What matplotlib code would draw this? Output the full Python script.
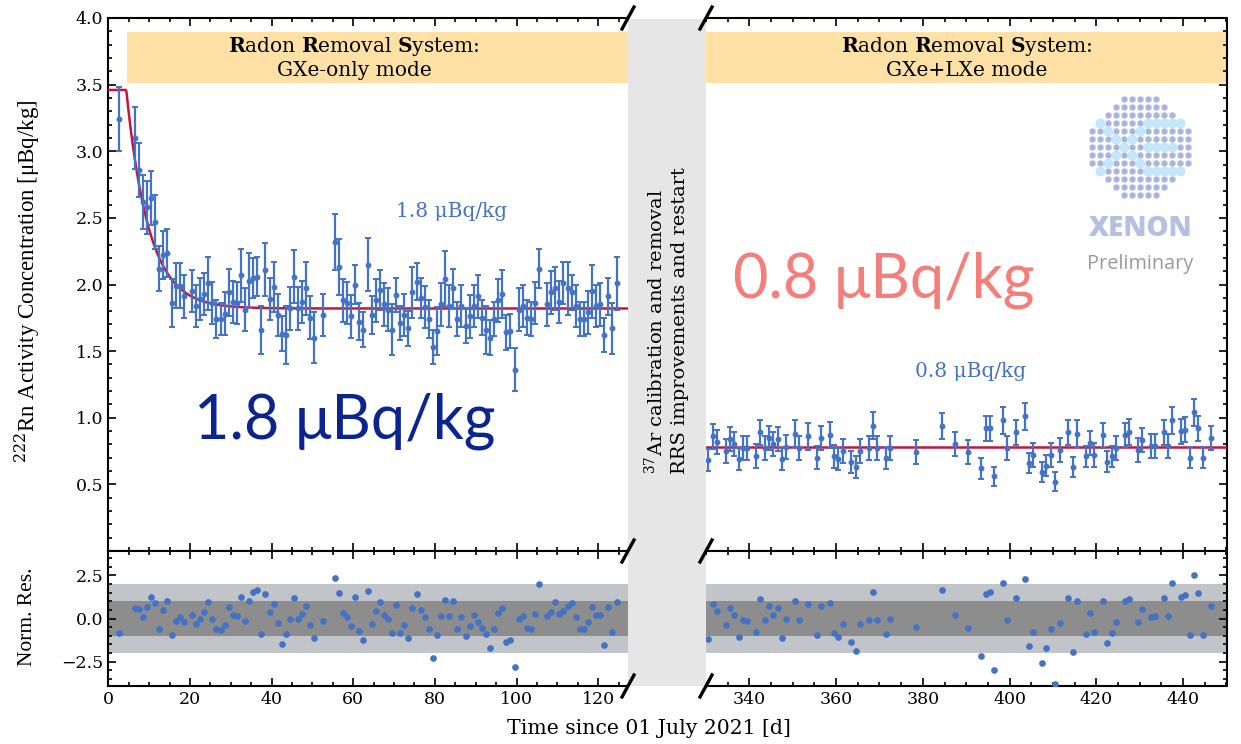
import numpy as np
import matplotlib
matplotlib.use("Agg")
import matplotlib.pyplot as plt
from matplotlib.patches import Rectangle
from matplotlib.lines import Line2D
from matplotlib.ticker import MultipleLocator

plt.rcParams['font.family'] = ['DejaVu Serif']
plt.rcParams['mathtext.fontset'] = 'dejavuserif'

# ---------------- data: GXe-only mode (left) ----------------
left_days = [2.5, 6.5, 7.5, 8.5, 9.5, 10.5, 11.5, 12.5, 13.5, 14.5, 15.5, 16.5, 17.5, 18.5,
             20.5, 21.5, 22.5, 23.5, 24.5, 25.5, 26.5, 27.5, 28.5, 29.5, 30.5, 31.5, 32.5,
             33.5, 34.5, 35.5, 36.5, 37.5, 38.5, 39.5, 40.5, 41.5, 42.5, 43.5, 44.5, 45.5,
             46.5, 47.5, 48.5, 49.5, 50.5, 52.5, 55.5, 56.5, 57.5, 58.5, 59.5, 60.5, 61.5,
             62.5, 63.5, 64.5, 65.5, 66.5, 67.5, 68.5, 69.5, 70.5, 71.5, 72.5, 73.5, 74.5,
             75.5, 76.5, 77.5, 78.5, 79.5, 80.5, 81.5, 82.5, 83.5, 84.5, 85.5, 86.5, 87.5,
             88.5, 89.5, 90.5, 91.5, 92.5, 93.5, 94.5, 95.5, 96.5, 97.5, 98.5, 99.5, 100.5,
             101.5, 102.5, 103.5, 104.5, 105.5, 107.5, 108.5, 109.5, 110.5, 111.5, 112.5,
             113.5, 114.5, 115.5, 116.5, 117.5, 118.5, 119.5, 120.5, 121.5, 122.5, 123.5, 124.5]
left_conc = [3.24, 3.10, 2.86, 2.62, 2.58, 2.65, 2.47, 2.12, 2.22, 2.24, 1.86, 1.99, 1.99, 1.91,
             1.95, 1.84, 1.89, 1.93, 2.01, 1.86, 1.74, 1.74, 1.78, 1.94, 1.87, 1.86, 2.07,
             1.81, 2.03, 2.05, 2.06, 1.66, 2.11, 1.89, 1.98, 1.77, 1.63, 1.62, 1.82, 2.06,
             1.82, 1.87, 1.97, 1.75, 1.60, 1.77, 2.32, 2.13, 1.88, 1.86, 1.76, 2.00, 1.72,
             1.66, 2.15, 1.77, 1.88, 1.96, 1.85, 1.81, 1.66, 1.92, 1.71, 1.77, 1.67, 1.94,
             2.02, 1.90, 1.83, 1.74, 1.53, 1.65, 1.85, 2.04, 1.84, 1.97, 1.74, 1.84, 1.69,
             1.76, 1.84, 1.91, 1.75, 1.66, 1.60, 1.74, 1.88, 1.93, 1.64, 1.65, 1.36, 1.81,
             1.84, 1.75, 1.74, 1.86, 2.12, 1.85, 1.94, 1.97, 1.87, 2.01, 1.97,
             1.94, 1.84, 1.74, 1.74, 1.79, 1.95, 1.84, 1.85, 1.62, 1.91, 1.67, 2.01]
left_err = [0.24, 0.23, 0.20, 0.20, 0.20, 0.20, 0.20, 0.17, 0.18, 0.18, 0.18, 0.17, 0.17, 0.16,
            0.16, 0.16, 0.16, 0.16, 0.20, 0.16, 0.14, 0.12, 0.16, 0.18, 0.16, 0.16, 0.20,
            0.16, 0.21, 0.15, 0.15, 0.18, 0.20, 0.16, 0.19, 0.16, 0.13, 0.22, 0.16, 0.20,
            0.16, 0.16, 0.20, 0.16, 0.19, 0.16, 0.21, 0.21, 0.16, 0.16, 0.16, 0.15, 0.14,
            0.13, 0.20, 0.14, 0.16, 0.15, 0.16, 0.16, 0.19, 0.13, 0.13, 0.16, 0.13, 0.19,
            0.14, 0.15, 0.16, 0.14, 0.13, 0.18, 0.16, 0.21, 0.16, 0.15, 0.13, 0.16, 0.13,
            0.16, 0.16, 0.16, 0.13, 0.18, 0.13, 0.13, 0.16, 0.18, 0.13, 0.13, 0.16, 0.16,
            0.16, 0.13, 0.13, 0.16, 0.15, 0.16, 0.16, 0.16, 0.16, 0.16, 0.20,
            0.13, 0.16, 0.13, 0.13, 0.16, 0.20, 0.16, 0.16, 0.13, 0.14, 0.19, 0.20]
left_res = [-0.83, 0.62, 0.56, 0.10, 0.69, 1.23, 0.88, -0.58, 0.52, 1.04, -0.96, -0.12, 0.06, -0.19,
            0.21, -0.33, -0.02, 0.37, 0.94, 0.00, -0.58, -0.69, -0.38, 0.67, 0.23, 0.13, 1.25,
            -0.13, 1.00, 1.56, 1.63, -0.90, 1.44, 0.37, 0.83, -0.27, -1.46, -0.90, 0.00, 1.17,
            -0.04, 0.25, 0.73, -0.35, -1.15, -0.12, 2.33, 1.50, 0.33, 0.08, -0.44, 1.23, -0.71,
            -1.25, 1.60, -0.33, 0.44, 0.96, 0.19, -0.04, -0.83, 0.77, -0.83, -0.38, -1.12, 0.62,
            1.40, 0.52, 0.06, -0.58, -2.29, -0.94, 0.17, 1.06, 0.15, 1.02, -0.62, 0.08, -1.02,
            -0.42, 0.19, -0.19, -0.52, -0.88, -1.73, -0.62, 0.33, 0.60, -1.37, -1.27, -2.79, -0.02,
            0.17, -0.54, -0.60, 0.27, 2.02, 0.17, 0.40, 0.96, 0.25, 0.42, 0.73,
            0.92, 0.10, -0.60, -0.60, -0.23, 0.65, 0.19, 0.19, -1.52, 0.65, -0.79, 0.96]

# ---------------- data: GXe+LXe mode (right) ----------------
right_days = [330.5, 331.5, 332.5, 334.5, 335.5, 336.5, 337.5, 338.5, 339.5, 341.5, 342.5,
              343.5, 344.5, 345.5, 346.5, 347.5, 348.5, 350.5, 351.5, 353.5, 355.5, 356.5,
              358.5, 359.5, 360.5, 361.5, 363.5, 364.5, 365.5, 367.5, 368.5, 369.5, 371.5,
              372.5, 378.5, 384.5, 387.5, 390.5, 393.5, 394.5, 395.5, 396.5, 398.5, 399.5,
              401.5, 403.5, 404.5, 405.5, 407.5, 408.5, 409.5, 410.5, 411.5, 413.5, 414.5,
              415.5, 417.5, 418.5, 419.5, 421.5, 422.5, 423.5, 424.5, 426.5, 427.5, 429.5,
              430.5, 432.5, 433.5, 435.5, 436.5, 437.5, 439.5, 440.5, 441.5, 442.5, 443.5,
              444.5, 446.5]
right_conc = [0.68, 0.86, 0.82, 0.75, 0.84, 0.80, 0.69, 0.77, 0.77, 0.71, 0.89,
              0.77, 0.85, 0.80, 0.84, 0.69, 0.78, 0.88, 0.77, 0.86, 0.70, 0.85,
              0.87, 0.71, 0.69, 0.75, 0.67, 0.63, 0.75, 0.77, 0.94, 0.77, 0.70,
              0.77, 0.74, 0.94, 0.80, 0.74, 0.62, 0.92, 0.92, 0.56, 0.98, 0.77,
              0.89, 1.01, 0.66, 0.72, 0.59, 0.64, 0.72, 0.52, 0.76, 0.89, 0.63,
              0.88, 0.71, 0.81, 0.72, 0.87, 0.67, 0.71, 0.77, 0.87, 0.89, 0.76,
              0.83, 0.79, 0.79, 0.89, 0.79, 0.98, 0.90, 0.91, 0.70, 1.04, 0.92,
              0.70, 0.85]
right_err = [0.083, 0.095, 0.09, 0.09, 0.09, 0.09, 0.085, 0.09, 0.09, 0.09, 0.095,
             0.09, 0.09, 0.09, 0.09, 0.083, 0.09, 0.10, 0.09, 0.10, 0.085, 0.09,
             0.095, 0.085, 0.085, 0.09, 0.082, 0.08, 0.09, 0.09, 0.10, 0.09, 0.083,
             0.09, 0.09, 0.096, 0.09, 0.09, 0.076, 0.095, 0.095, 0.073, 0.10, 0.09,
             0.093, 0.10, 0.076, 0.09, 0.075, 0.08, 0.09, 0.07, 0.09, 0.096, 0.075,
             0.10, 0.08, 0.09, 0.09, 0.094, 0.08, 0.08, 0.09, 0.092, 0.097, 0.09,
             0.09, 0.09, 0.09, 0.096, 0.09, 0.10, 0.094, 0.092, 0.078, 0.10, 0.094,
             0.078, 0.09]
right_res = [-1.21, 0.85, 0.46, -0.38, 0.63, 0.23, -1.04, -0.08, -0.15, -0.77, 1.12,
             -0.08, 0.73, 0.23, 0.63, -1.12, -0.02, 1.02, -0.10, 0.83, -0.98, 0.73,
             0.92, -0.81, -1.04, -0.33, -1.35, -1.87, -0.33, -0.10, 1.56, -0.06, -0.92,
             -0.04, -0.50, 1.62, 0.21, -0.52, -2.15, 1.44, 1.52, -3.00, 2.04, -0.10,
             1.19, 2.29, -1.56, -0.77, -2.56, -1.73, -0.62, -3.77, -0.27, 1.17, -1.96,
             1.04, -0.90, 0.33, -0.79, 1.00, -1.42, -0.85, -0.23, 1.02, 1.15, -0.23,
             0.56, 0.08, 0.17, 1.17, 0.15, 2.04, 1.27, 1.38, -0.98, 2.50, 1.46,
             -0.98, 0.75]

# fit model parameters
fit_plateau = 3.46
fit_floor_left = 1.82
fit_t0 = 4.4
fit_tau = 5.516
fit_level_right = 0.78

xlim_left = (0, 127.3)
xlim_right = (330, 450)

BLUE = '#4472c4'
RED = '#c8143c'
ORANGE = '#ffe1a6'

fig = plt.figure(figsize=(12.41, 7.44), dpi=100)
W = 1241.0
H = 744.0

def fx(px):
    return px / W

def fy(py):
    return 1 - py / H

x_l0, x_l1 = 108.3, 628.0
x_r0, x_r1 = 706.0, 1226.5
y_t0, y_mid, y_b = 18.0, 551.0, 686.0

# gray column between the panels
fig.patches.append(Rectangle((fx(x_l1), fy(y_b)), fx(x_r0) - fx(x_l1), fy(y_t0 + 1) - fy(y_b),
                             transform=fig.transFigure, facecolor='#e6e6e6',
                             edgecolor='none', zorder=0))

axL = fig.add_axes([fx(x_l0), fy(y_mid), fx(x_l1) - fx(x_l0), fy(y_t0) - fy(y_mid)])
axR = fig.add_axes([fx(x_r0), fy(y_mid), fx(x_r1) - fx(x_r0), fy(y_t0) - fy(y_mid)])
rL = fig.add_axes([fx(x_l0), fy(y_b), fx(x_l1) - fx(x_l0), fy(y_mid) - fy(y_b)])
rR = fig.add_axes([fx(x_r0), fy(y_b), fx(x_r1) - fx(x_r0), fy(y_mid) - fy(y_b)])

# fit curves
tL = np.linspace(xlim_left[0], xlim_left[1], 1000)
fitL = np.where(tL < fit_t0, fit_plateau,
                fit_floor_left + (fit_plateau - fit_floor_left) * np.exp(-(tL - fit_t0) / fit_tau))
axL.plot(tL, fitL, color=RED, lw=1.8, zorder=3)
axR.plot(xlim_right, [fit_level_right, fit_level_right], color=RED, lw=1.8, zorder=3)

eb_kw = dict(fmt='o', color=BLUE, ms=3.2, elinewidth=1.6, capsize=2.3, capthick=1.4,
             zorder=4)
axL.errorbar(left_days, left_conc, yerr=left_err, **eb_kw)
axR.errorbar(right_days, right_conc, yerr=right_err, **eb_kw)

# orange boxes
axL.add_patch(Rectangle((4.6, 3.513), xlim_left[1] - 4.6, 0.382, facecolor=ORANGE,
                        edgecolor='none', zorder=1))
axR.add_patch(Rectangle((xlim_right[0], 3.513), xlim_right[1] - xlim_right[0], 0.382,
                        facecolor=ORANGE, edgecolor='none', zorder=1))
rrs = r"$\mathbf{R}$adon $\mathbf{R}$emoval $\mathbf{S}$ystem:"
axL.text(60.2, 3.705, rrs + "\nGXe-only mode", ha='center', va='center',
         fontsize=14.5, linespacing=1.2, zorder=2)
axR.text(sum(xlim_right) / 2, 3.705, rrs + "\nGXe+LXe mode", ha='center', va='center',
         fontsize=14.5, linespacing=1.2, zorder=2)

axL.text(84, 2.545, "1.8 μBq/kg", color=BLUE, fontsize=14.5, ha='center', va='center')
axR.text(391, 1.345, "0.8 μBq/kg", color=BLUE, fontsize=14.5, ha='center', va='center')
axL.text(58, 0.97, "1.8 μBq/kg", color='#0b2490', fontsize=44, ha='center', va='center',
         family='Lato')
axR.text(371, 2.03, "0.8 μBq/kg", color='#f47f7a', fontsize=44, ha='center', va='center',
         family='Lato')

# residual bands and points
for ax, days, res, xl in ((rL, left_days, left_res, xlim_left), (rR, right_days, right_res, xlim_right)):
    ax.axhspan(-2, 2, color='#c1c4c9', lw=0, zorder=0)
    ax.axhspan(-1, 1, color='#8d8d8d', lw=0, zorder=1)
    ax.plot(days, res, 'o', color=BLUE, ms=3.8, zorder=3)
    ax.set_xlim(*xl)
    ax.set_ylim(-3.9, 3.9)
    ax.yaxis.set_major_locator(MultipleLocator(2.5))
    ax.yaxis.set_minor_locator(MultipleLocator(0.5))

for ax, xl in ((axL, xlim_left), (axR, xlim_right)):
    ax.set_xlim(*xl)
    ax.set_ylim(0, 4.0)
    ax.set_yticks([0.5, 1.0, 1.5, 2.0, 2.5, 3.0, 3.5, 4.0])
    ax.yaxis.set_minor_locator(MultipleLocator(0.1))
    ax.tick_params(labelbottom=False)

for ax in (axL, axR, rL, rR):
    ax.xaxis.set_major_locator(MultipleLocator(20))
    ax.xaxis.set_minor_locator(MultipleLocator(5))
    for s in ax.spines.values():
        s.set_linewidth(1.5)
    ax.tick_params(which='both', direction='in', top=True, width=1.2, labelsize=12.5)
    ax.tick_params(which='major', length=6)
    ax.tick_params(which='minor', length=3)

for ax in (axL, rL):
    ax.spines['right'].set_visible(False)
    ax.tick_params(which='both', right=False, left=True)
for ax in (axR, rR):
    ax.spines['left'].set_visible(False)
    ax.tick_params(which='both', left=False, right=True, labelleft=False)

# break marks
def brk(px, py):
    fig.add_artist(Line2D([fx(px - 6), fx(px + 6)], [fy(py + 11), fy(py - 11)],
                          transform=fig.transFigure, color='black', lw=2.4, zorder=10))

for py in (y_t0, y_mid, y_b):
    brk(x_l1, py)
    brk(x_r0, py)

# gap text
fig.text(fx(666), fy(321), r"$^{37}$Ar calibration and removal" + "\nRRS improvements and restart",
         rotation=90, ha='center', va='center', fontsize=14, linespacing=1.3,
         multialignment='left')

# axis labels
fig.text(fx(28), fy(281), r"$^{222}$Rn Activity Concentration [μBq/kg]", rotation=90,
         ha='center', va='center', fontsize=16.5, family='Liberation Serif')
fig.text(fx(28), fy(617), "Norm. Res.", rotation=90, ha='center', va='center',
         fontsize=15.5, family='Liberation Serif')
fig.text(fx(649), fy(729), "Time since 01 July 2021 [d]", ha='center', va='center',
         fontsize=14.7)

# XENON logo
cx, cy, sp = 1140.3, 147.3, 8.0
big = set()
for (r, c) in [(3, 1), (4, 2), (5, 3), (6, 4), (7, 3), (8, 2), (9, 1),
               (4, 6), (5, 5), (7, 5), (8, 6)]:
    big.add((r, c))
for r in (3, 6, 9):
    for c in range(7, 12 if r != 6 else 11):
        big.add((r, c))
sx, sy, bx, by = [], [], [], []
for r in range(13):
    for c in range(13):
        if (r - 6) ** 2 + (c - 6) ** 2 <= 6.4 ** 2:
            X = cx + (c - 6) * sp
            Y = cy + (r - 6) * sp
            if (r, c) in big:
                bx.append(fx(X)); by.append(fy(Y))
            else:
                sx.append(fx(X)); sy.append(fy(Y))
logo_ax = fig.add_axes([0, 0, 1, 1], facecolor='none')
logo_ax.set_xlim(0, 1); logo_ax.set_ylim(0, 1); logo_ax.axis('off')
logo_ax.scatter(sx, sy, s=21, color='#aab5dc', lw=0)
logo_ax.scatter(bx, by, s=52, color='#c3e7f8', lw=0)
fig.text(fx(1141), fy(229), "XENON", ha='center', va='center', fontsize=20,
         fontweight='heavy', color='#b4c0e2', family='Open Sans')
fig.text(fx(1140), fy(264), "Preliminary", ha='center', va='center', fontsize=14.3,
         color='#9a9a9a', family='Open Sans')

fig.savefig('out.png', dpi=100)
